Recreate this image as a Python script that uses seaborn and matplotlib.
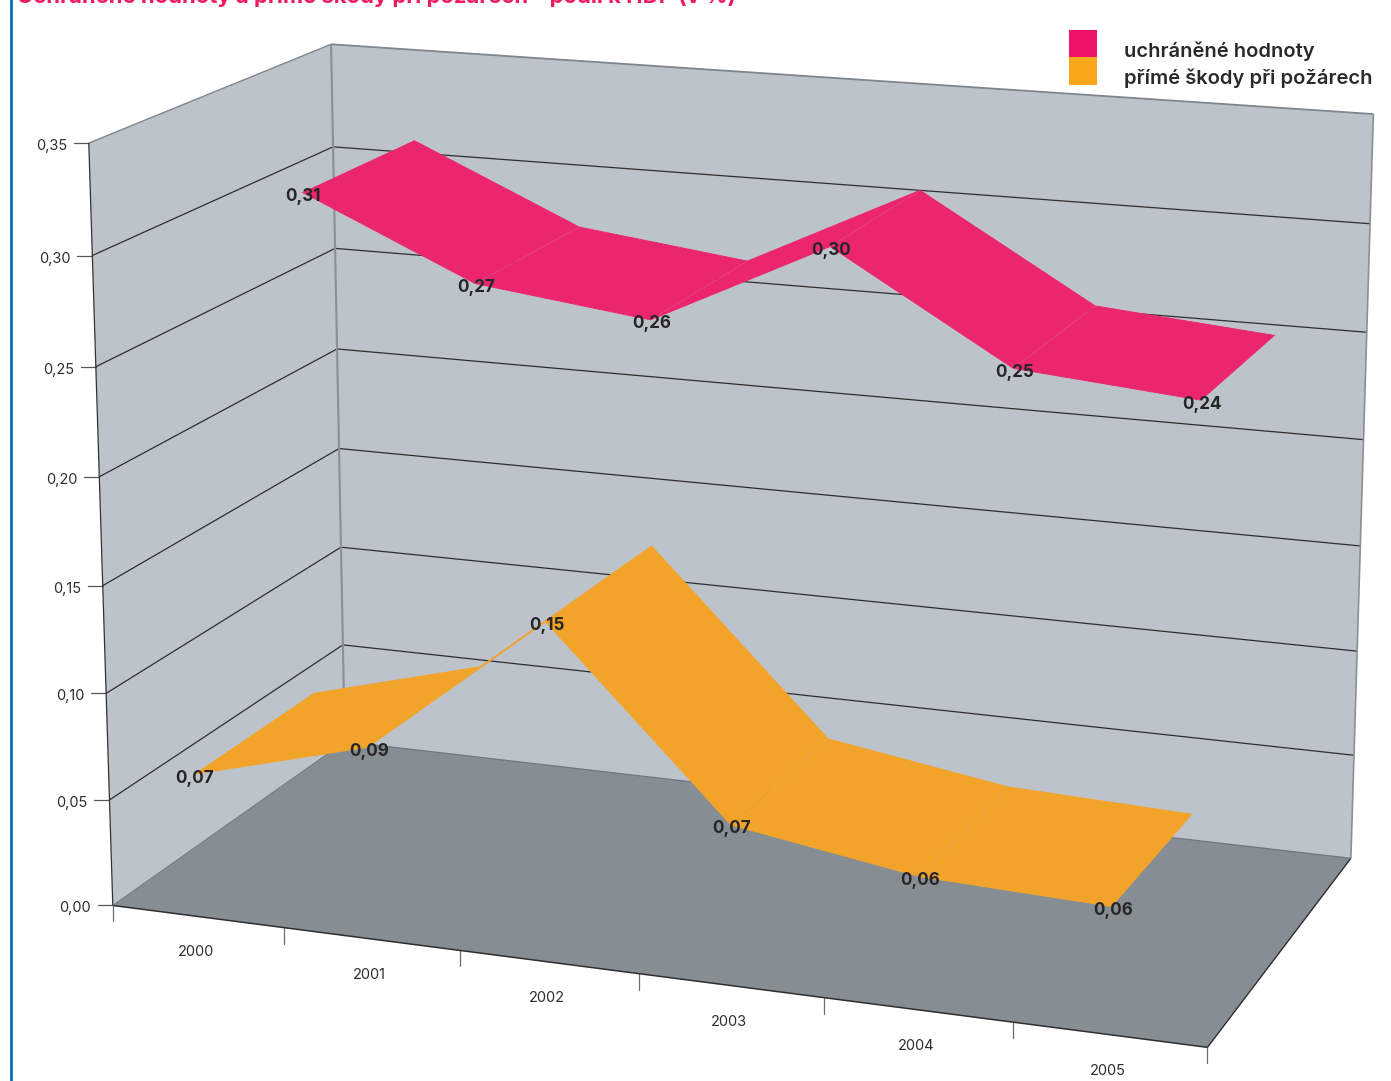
import numpy as np
import pandas as pd
import matplotlib
matplotlib.use("Agg")
import matplotlib.pyplot as plt
import seaborn as sns

years = ["2000", "2001", "2002", "2003", "2004", "2005"]
protected_values = [0.306, 0.27, 0.26, 0.30, 0.252, 0.245]
damage_values = [0.067, 0.089, 0.155, 0.073, 0.060, 0.057]
protected_labels = ["0,31", "0,27", "0,26", "0,30", "0,25", "0,24"]
damage_labels = ["0,07", "0,09", "0,15", "0,07", "0,06", "0,06"]
value_ticks = [0.00, 0.05, 0.10, 0.15, 0.20, 0.25, 0.30, 0.35]
series_names = ["uchráněné hodnoty", "přímé škody při požárech"]
title_text = "Uchráněné hodnoty a přímé škody při požárech – podíl k HDP (v %)"

W, H = 1391, 1081
sns.set_theme(style="white")
plt.rcParams["font.family"] = ["Inter", "DejaVu Sans"]
fig = plt.figure(figsize=(W / 100, H / 100), dpi=100)
ax = fig.add_axes([0, 0, 1, 1])
ax.set_xlim(0, W)
ax.set_ylim(H, 0)
ax.axis("off")

# camera calibration of the 3D box: (category, depth, value) -> pixel
front_left = [(112, 905), (110, 799), (107, 692), (103, 585), (100, 476), (96, 367), (92, 256), (88, 144)]
back_left = [(345, 743), (343, 645), (341, 547), (339, 449), (337, 349), (335, 249), (333, 146), (331, 44)]
back_right = [(1351, 857), (1354, 755), (1357, 651), (1360, 546), (1363, 440), (1367, 332), (1370, 224), (1374, 114)]
front_ticks = [(112, 905), (284, 928), (460, 951), (639, 975), (824, 998), (1014, 1023), (1207, 1047)]
calib = []
for t, (f, bl, br) in zip(value_ticks, zip(front_left, back_left, back_right)):
    calib += [(0, 0, t, *f), (0, 1, t, *bl), (6, 1, t, *br)]
calib += [(i, 0, 0, *c) for i, c in enumerate(front_ticks)]
A, b = [], []
for x, d, v, u, w in calib:
    A.append([x, d, v, 1, 0, 0, 0, 0, -u * x, -u * d, -u * v]); b.append(u)
    A.append([0, 0, 0, 0, x, d, v, 1, -w * x, -w * d, -w * v]); b.append(w)
p = np.linalg.lstsq(np.array(A, float), np.array(b, float), rcond=None)[0]
P = np.append(p, 1.0).reshape(3, 4)


def project(x, d, v):
    h = P @ np.array([x, d, v, 1.0])
    return h[0] / h[2], h[1] / h[2]


def quad(c0, c1, c2, c3, color, z):
    pts = [project(*c) for c in (c0, c1, c2, c3)]
    ax.fill(*zip(*pts), color=color, lw=0, zorder=z)


top = value_ticks[-1]
wall, floor_c = "#BDC3CA", "#878E93"
quad((0, 0, 0), (0, 1, 0), (0, 1, top), (0, 0, top), wall, 1)
quad((0, 1, 0), (6, 1, 0), (6, 1, top), (0, 1, top), wall, 1)
quad((0, 0, 0), (6, 0, 0), (6, 1, 0), (0, 1, 0), floor_c, 1.5)

# gridlines and box edges
rows = []
for i, v in enumerate(value_ticks):
    path = [(0, 0, v), (0, 1, v), (6, 1, v)]
    for k, c in enumerate(path):
        u, w = project(*c)
        rows.append(dict(line=f"g{i}", order=k, u=u, w=w))
grid = pd.DataFrame(rows)
sns.lineplot(data=grid[(grid.line != "g7") & (grid.line != "g0")], x="u", y="w", units="line", estimator=None,
             sort=False, color="#2E2E30", lw=0.9, ax=ax, legend=False, zorder=2)


def seg(c0, c1, color, lw, z=2.2):
    a, b_ = project(*c0), project(*c1)
    ax.plot([a[0], b_[0]], [a[1], b_[1]], color=color, lw=lw, zorder=z, solid_capstyle="butt")


seg((0, 1, 0), (0, 1, top), "#8A9096", 1.5)
seg((6, 1, 0), (6, 1, top), "#8A9096", 1.2)
seg((0, 1, top), (6, 1, top), "#7F868D", 1.3)
seg((0, 0, top), (0, 1, top), "#7F868D", 1.0)
seg((0, 0, 0), (0, 0, top), "#333335", 0.9)
seg((0, 0, 0), (6, 0, 0), "#2E2E30", 1.1)
seg((6, 0, 0), (6, 1, 0), "#2E2E30", 1.0)
seg((0, 1, 0), (6, 1, 0), "#70767C", 0.9)
seg((0, 0, 0), (0, 1, 0), "#70767C", 0.7)

# ribbons
palette = sns.color_palette(["#EC266E", "#F2A42A"])
ribbons = [(protected_values, protected_labels, 0.5, 1.0, palette[0]),
           (damage_values, damage_labels, 0.0, 0.5, palette[1])]
for vals, labels, d0, d1, col in ribbons:
    for i in range(len(vals) - 1):
        x0, x1 = i + 0.5, i + 1.5
        quad((x0, d0, vals[i]), (x1, d0, vals[i + 1]), (x1, d1, vals[i + 1]), (x0, d1, vals[i]), col, 3)
    edge_rows = []
    for i, val in enumerate(vals):
        for name, d in (("front", d0), ("back", d1)):
            u, w = project(i + 0.5, d, val)
            edge_rows.append(dict(edge=name, u=u, w=w))
    sns.lineplot(data=pd.DataFrame(edge_rows), x="u", y="w", units="edge", estimator=None, sort=False,
                 color=col, lw=0.7, ax=ax, legend=False, zorder=3)
    for i, val in enumerate(vals):
        u, w = project(i + 0.5, d0, val)
        ax.text(u + 1, w + 4, labels[i], ha="center", va="center", fontsize=12.3,
                fontweight="bold", color="#262628", zorder=4)

ax.set_xlim(0, W); ax.set_ylim(H, 0); ax.set_xlabel(""); ax.set_ylabel(""); ax.axis("off")

# axis ticks and labels
for v in value_ticks:
    u, w = project(0, 0, v)
    ax.plot([u - 15, u], [w, w], color="#55585C", lw=0.9, zorder=2)
    ax.text(u - 22, w + 3, f"{v:.2f}".replace(".", ","), ha="right", va="center", fontsize=10.5, color="#2E2E30")
for i in range(7):
    u, w = project(i, 0, 0)
    ax.plot([u, u], [w, w + 16], color="#6A6E72", lw=0.9, zorder=2)
for i, y in enumerate(years):
    u, w = project(i + 0.5, 0, 0)
    ax.text(u - 2, w + 36, y, ha="center", va="center", fontsize=10.5, color="#2E2E30")

# legend
ax.add_patch(plt.Rectangle((1069, 30), 28, 27, color="#EE1268", lw=0, zorder=5))
ax.add_patch(plt.Rectangle((1069, 57), 28, 28, color="#FAA61A", lw=0, zorder=5))
ax.text(1124, 51, series_names[0], fontsize=14.5, fontweight="semibold", va="center", color="#2A2A2C")
ax.text(1124, 78, series_names[1], fontsize=14.5, fontweight="semibold", va="center", color="#2A2A2C")

# page furniture
ax.plot([10.5, 10.5], [0, H], color="#0A6CB5", lw=2.0)
ax.text(17, 3, title_text, fontsize=15.9, fontweight="bold", color="#EE1C5E", va="baseline", ha="left")

fig.savefig("out.png", dpi=100)
